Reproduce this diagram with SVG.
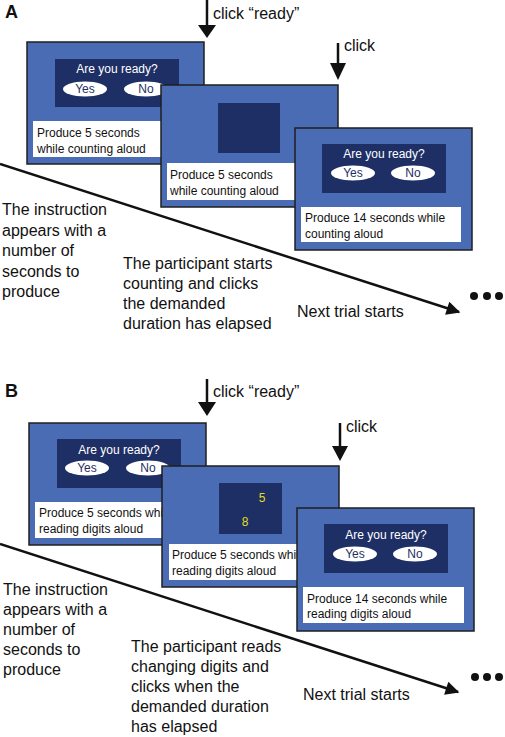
<svg xmlns="http://www.w3.org/2000/svg" width="505" height="737" viewBox="0 0 505 737">
<style>
text{font-family:"Liberation Sans",Arial,sans-serif;}
.scr{fill:#4a6cb5;stroke:#1f1f1f;stroke-width:1.5;}
.inner{fill:#1e2f66;}
.wbox{fill:#ffffff;}
.btn{fill:#ffffff;}
.q{fill:#ffffff;font-size:12px;text-anchor:middle;}
.bt{fill:#1e2f66;font-size:12px;text-anchor:middle;}
.st{fill:#111;font-size:12px;}
.lbl{fill:#111;font-size:16px;}
.pl{fill:#111;font-size:18px;font-weight:bold;}
.dig{fill:#e6dc1e;font-size:12px;text-anchor:middle;}
.ln{stroke:#111;stroke-width:2.5;fill:none;}
.ar{fill:#111;}
</style>
<defs>
<marker id="tl" viewBox="0 0 10 10" refX="9" refY="5" markerWidth="6.5" markerHeight="5.5" orient="auto" markerUnits="strokeWidth">
<path d="M0,0 L10,5 L0,10 Z" fill="#111"/>
</marker>
</defs>

<text class="pl" x="5" y="18">A</text>
<text class="pl" x="5" y="397">B</text>

<!-- Panel A -->
<g id="A-screen1">
<rect class="scr" x="27" y="42" width="177" height="122"/>
<rect class="inner" x="55" y="59" width="124" height="48"/>
<text class="q" x="117" y="73">Are you ready?</text>
<ellipse class="btn" cx="85" cy="89" rx="22" ry="7.5"/>
<ellipse class="btn" cx="146" cy="89" rx="22" ry="7.5"/>
<text class="bt" x="85" y="93">Yes</text>
<text class="bt" x="146" y="93">No</text>
<rect class="wbox" x="33" y="121" width="135" height="36"/>
<text class="st" x="37" y="137">Produce 5 seconds</text>
<text class="st" x="37" y="153">while counting aloud</text>
</g>
<g id="A-screen2">
<rect class="scr" x="161" y="85" width="177" height="122"/>
<rect class="inner" x="218" y="103" width="62" height="50"/>
<rect class="wbox" x="167" y="163" width="135" height="37"/>
<text class="st" x="170" y="179">Produce 5 seconds</text>
<text class="st" x="170" y="195">while counting aloud</text>
</g>
<g id="A-screen3">
<rect class="scr" x="295" y="128" width="177" height="122"/>
<rect class="inner" x="322" y="144" width="124" height="49"/>
<text class="q" x="384" y="158">Are you ready?</text>
<ellipse class="btn" cx="353" cy="173" rx="22" ry="7.5"/>
<ellipse class="btn" cx="413" cy="173" rx="22" ry="7.5"/>
<text class="bt" x="353" y="177">Yes</text>
<text class="bt" x="413" y="177">No</text>
<rect class="wbox" x="301" y="207" width="160" height="35"/>
<text class="st" x="305" y="222">Produce 14 seconds while</text>
<text class="st" x="305" y="238">counting aloud</text>
</g>

<!-- Panel B -->
<g id="B-screen1">
<rect class="scr" x="29" y="423" width="177" height="122"/>
<rect class="inner" x="57" y="439" width="124" height="49"/>
<text class="q" x="119" y="454">Are you ready?</text>
<ellipse class="btn" cx="87" cy="468" rx="22" ry="7.5"/>
<ellipse class="btn" cx="148" cy="468" rx="22" ry="7.5"/>
<text class="bt" x="87" y="472">Yes</text>
<text class="bt" x="148" y="472">No</text>
<rect class="wbox" x="35" y="502" width="135" height="36"/>
<text class="st" x="39" y="517">Produce 5 seconds while</text>
<text class="st" x="39" y="533">reading digits aloud</text>
</g>
<g id="B-screen2">
<rect class="scr" x="162" y="466" width="177" height="121"/>
<rect class="inner" x="219" y="483" width="63" height="51"/>
<text class="dig" x="262" y="502">5</text>
<text class="dig" x="245" y="526">8</text>
<rect class="wbox" x="169" y="544" width="135" height="36"/>
<text class="st" x="172" y="559">Produce 5 seconds while</text>
<text class="st" x="172" y="575">reading digits aloud</text>
</g>
<g id="B-screen3">
<rect class="scr" x="297" y="508" width="177" height="123"/>
<rect class="inner" x="324" y="524" width="124" height="49"/>
<text class="q" x="386" y="539">Are you ready?</text>
<ellipse class="btn" cx="355" cy="554" rx="22" ry="7.5"/>
<ellipse class="btn" cx="415" cy="554" rx="22" ry="7.5"/>
<text class="bt" x="355" y="558">Yes</text>
<text class="bt" x="415" y="558">No</text>
<rect class="wbox" x="303" y="587" width="161" height="36"/>
<text class="st" x="307" y="603">Produce 14 seconds while</text>
<text class="st" x="307" y="618">reading digits aloud</text>
</g>

<g id="connectors">
<line class="ln" x1="207" y1="0" x2="207" y2="26"/>
<path class="ar" d="M198,25 L216,25 L207,38 Z"/>
<line class="ln" x1="338" y1="43" x2="338" y2="64"/>
<path class="ar" d="M330,63 L346,63 L338,80 Z"/>
<line class="ln" x1="0" y1="164" x2="459" y2="312" marker-end="url(#tl)"/>
<line class="ln" x1="207" y1="379" x2="207" y2="403"/>
<path class="ar" d="M198,402 L216,402 L207,416 Z"/>
<line class="ln" x1="340" y1="423" x2="340" y2="447"/>
<path class="ar" d="M332,446 L348,446 L340,461 Z"/>
<line class="ln" x1="0" y1="544" x2="458" y2="692" marker-end="url(#tl)"/>
</g>

<g id="labels-A">
<text class="lbl" x="213" y="19">click “ready”</text>
<text class="lbl" x="344" y="51">click</text>
<text class="lbl" x="2" y="215">The instruction</text>
<text class="lbl" x="2" y="236">appears with a</text>
<text class="lbl" x="2" y="256">number of</text>
<text class="lbl" x="2" y="277">seconds to</text>
<text class="lbl" x="2" y="297">produce</text>
<text class="lbl" x="123" y="269">The participant starts</text>
<text class="lbl" x="123" y="289">counting and clicks</text>
<text class="lbl" x="123" y="309">the demanded</text>
<text class="lbl" x="123" y="329">duration has elapsed</text>
<text class="lbl" x="297" y="317">Next trial starts</text>
<circle cx="474" cy="296" r="4" fill="#111"/>
<circle cx="487" cy="296" r="4" fill="#111"/>
<circle cx="499" cy="296" r="4" fill="#111"/>
</g>
<g id="labels-B">
<text class="lbl" x="213" y="397">click “ready”</text>
<text class="lbl" x="346" y="432">click</text>
<text class="lbl" x="3" y="595">The instruction</text>
<text class="lbl" x="3" y="615">appears with a</text>
<text class="lbl" x="3" y="635">number of</text>
<text class="lbl" x="3" y="655">seconds to</text>
<text class="lbl" x="3" y="675">produce</text>
<text class="lbl" x="131" y="652">The participant reads</text>
<text class="lbl" x="131" y="672">changing digits and</text>
<text class="lbl" x="131" y="692">clicks when the</text>
<text class="lbl" x="131" y="712">demanded duration</text>
<text class="lbl" x="131" y="732">has elapsed</text>
<text class="lbl" x="303" y="700">Next trial starts</text>
<circle cx="475" cy="677" r="4" fill="#111"/>
<circle cx="487" cy="677" r="4" fill="#111"/>
<circle cx="499" cy="677" r="4" fill="#111"/>
</g>
</svg>
